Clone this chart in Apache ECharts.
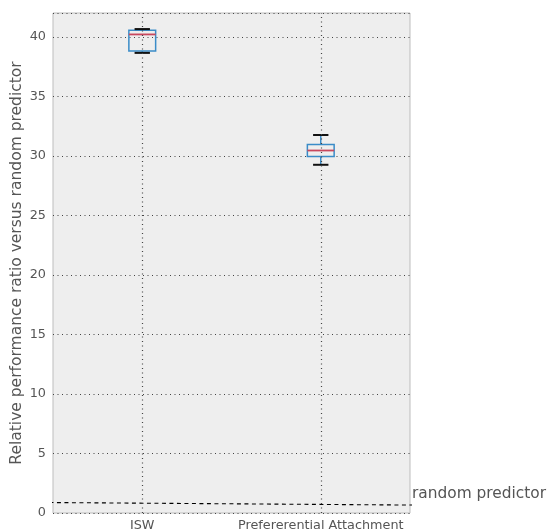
<!DOCTYPE html>
<html>
<head>
<meta charset="utf-8">
<script src="https://cdn.jsdelivr.net/npm/echarts@6/dist/echarts.min.js"></script>
<style>
  html, body { margin: 0; padding: 0; background: #ffffff; }
  #chart { width: 548px; height: 532px; }
</style>
</head>
<body>
<div id="chart"></div>
<script>
// Box statistics per method
const categories = ['ISW', 'Prefererential Attachment'];
const whiskerLow = [38.65, 29.25];
const q1 = [38.8, 29.95];
const median = [40.2, 30.45];
const q3 = [40.55, 30.95];
const whiskerHigh = [40.65, 31.75];

// Baseline of a random predictor (x in category-index units)
const baselineX = [-0.52, 2.14];
const baselineY = [0.88, 0.6];

const yTicks = [0, 5, 10, 15, 20, 25, 30, 35, 40];

const BOX = '#3a8cc8';
const MED = '#c8485e';
const CAP = '#111111';
const TEXT = '#555555';

const boxData = categories.map((c, i) =>
  [i, whiskerLow[i], q1[i], median[i], q3[i], whiskerHigh[i]]);
const baselineData = baselineX.map((x, i) => [x, baselineY[i]]);

function renderBox(params, api) {
  const x = api.value(0);
  const band = api.size([1, 0])[0];
  const half = band * 0.075;
  const capHalf = band * 0.043;
  const pLo = api.coord([x, api.value(1)]);
  const pQ1 = api.coord([x, api.value(2)]);
  const pMed = api.coord([x, api.value(3)]);
  const pQ3 = api.coord([x, api.value(4)]);
  const pHi = api.coord([x, api.value(5)]);
  const cx = pMed[0];
  const seg = (x1, y1, x2, y2, color, w) => ({
    type: 'line',
    shape: { x1, y1, x2, y2 },
    style: { stroke: color, lineWidth: w, fill: null }
  });
  return {
    type: 'group',
    children: [
      seg(cx, pLo[1], cx, pQ1[1], BOX, 1.5),
      seg(cx, pQ3[1], cx, pHi[1], BOX, 1.5),
      {
        type: 'rect',
        shape: { x: cx - half, y: pQ3[1], width: half * 2, height: pQ1[1] - pQ3[1] },
        style: { stroke: BOX, lineWidth: 1.5, fill: 'rgba(0,0,0,0)' }
      },
      seg(cx - half, pMed[1], cx + half, pMed[1], MED, 1.8),
      seg(cx - capHalf, pLo[1], cx + capHalf, pLo[1], CAP, 2),
      seg(cx - capHalf, pHi[1], cx + capHalf, pHi[1], CAP, 2)
    ]
  };
}

const chart = echarts.init(document.getElementById('chart'), null, { renderer: 'canvas' });

chart.setOption({
  animation: false,
  backgroundColor: '#ffffff',
  textStyle: { fontFamily: 'DejaVu Sans' },
  title: {
    text: 'random predictor',
    left: 412,
    top: 486,
    padding: 0,
    textStyle: { fontFamily: 'DejaVu Sans', fontSize: 15.4, fontWeight: 'normal', color: TEXT }
  },
  grid: {
    left: 53, right: 138, top: 13, bottom: 19,
    outerBoundsMode: 'none',
    containLabel: false,
    show: true,
    backgroundColor: '#eeeeee',
    borderColor: '#bdbdbd',
    borderWidth: 1
  },
  xAxis: [
    {
      type: 'category',
      data: categories,
      boundaryGap: true,
      axisLine: { show: false },
      axisTick: { show: false },
      splitLine: { show: false },
      axisLabel: { interval: 0, hideOverlap: false, color: TEXT, fontSize: 12.8, margin: 6, fontFamily: 'DejaVu Sans' }
    },
    {
      type: 'value',
      min: -0.5,
      max: 1.5,
      show: false
    }
  ],
  yAxis: {
    type: 'value',
    min: 0,
    max: 42,
    interval: 5,
    name: 'Relative performance ratio versus random predictor',
    nameLocation: 'middle',
    nameGap: 28,
    nameMoveOverlap: false,
    nameTextStyle: { color: TEXT, fontSize: 15.5, fontFamily: 'DejaVu Sans' },
    axisLine: { show: false },
    axisTick: { show: false },
    axisLabel: {
      color: TEXT, fontSize: 12.8, margin: 7, fontFamily: 'DejaVu Sans',
      showMaxLabel: false,
      formatter: v => (yTicks.includes(v) ? String(v) : '')
    },
    splitLine: {
      show: true,
      lineStyle: { color: '#444444', type: [1, 3.5], width: 1.2 }
    }
  },
  series: [
    {
      name: 'random predictor',
      type: 'line',
      xAxisIndex: 1,
      data: baselineData,
      clip: false,
      symbol: 'none',
      z: 2,
      lineStyle: { color: '#000000', width: 1.1, type: [4, 3.5] },
      markLine: {
        silent: true,
        symbol: 'none',
        label: { show: false },
        lineStyle: { color: '#444444', type: [1, 3.5], width: 1.2 },
        data: categories.map((c, i) => ({ xAxis: i }))
      }
    },
    {
      name: 'boxes',
      type: 'custom',
      xAxisIndex: 0,
      z: 3,
      renderItem: renderBox,
      encode: { x: 0, y: [1, 2, 3, 4, 5] },
      data: boxData
    }
  ]
});
</script>
</body>
</html>
